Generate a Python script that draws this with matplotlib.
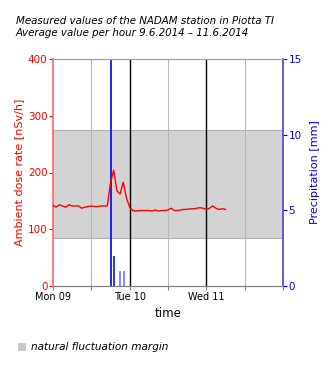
import matplotlib
matplotlib.use("Agg")
import matplotlib.pyplot as plt
from matplotlib.patches import Rectangle

# Hourly ambient dose rate [nSv/h], starting Mon 09.06.2014 00:00
dose_rate = [142, 139, 143, 141, 139, 143, 141, 141, 141, 137,
             139, 140, 141, 140, 140, 141, 141, 141, 182, 204,
             168, 162, 183, 155, 139, 133, 132, 133, 133, 133,
             133, 132, 134, 132, 133, 133, 134, 137, 133, 133,
             134, 135, 135, 136, 136, 137, 138, 137, 135, 137,
             141, 137, 135, 136, 135]

# Precipitation [mm] (hour, amount)
rain_hours = [19.2, 21.1, 22.3]
rain_mm = [2, 1, 1]

# Natural fluctuation margin [nSv/h]
margin_low, margin_high = 84, 275

# Highlighted time (hour)
marker_hour = 18.2

day_labels = ["Mon 09", "Tue 10", "Wed 11"]
day_hours = [0, 24, 48]

fig = plt.figure(figsize=(3.3, 3.7), dpi=100)
ax = fig.add_axes([53/330, (370-286)/370, 230/330, 227/370])
ax2 = ax.twinx()

ax.set_xlim(0, 72)
ax.set_ylim(0, 400)
ax2.set_ylim(0, 15)

# fluctuation band
ax.axhspan(margin_low, margin_high, color="#d3d3d3", zorder=0, lw=0)
ax.axhline(margin_low, color="#b0b0b0", lw=0.8, zorder=0.5)
ax.axhline(margin_high, color="#b0b0b0", lw=0.8, zorder=0.5)

# vertical grid every 12 hours, day boundaries in black
for h in range(12, 72, 12):
    if h % 24 == 0:
        ax.axvline(h, color="black", lw=1.0, zorder=1)
    else:
        ax.axvline(h, color="#b8b8b8", lw=0.8, zorder=1)

ax.axvline(marker_hour, color="#0000ee", lw=1.2, zorder=2)

hours = list(range(len(dose_rate)))
ax.plot(hours, dose_rate, color="red", lw=1.0, zorder=3)

ax2.vlines(rain_hours[:1], 0, rain_mm[:1], color="#2020ff", lw=1.3, zorder=3)
ax2.vlines(rain_hours[1:], 0, rain_mm[1:], color="#8080ff", lw=1.3, zorder=3)

# spines
for a in (ax, ax2):
    a.spines["top"].set_color("#a0a0a0")
    a.spines["bottom"].set_color("#808080")
    a.spines["top"].set_linewidth(0.8)
    a.spines["bottom"].set_linewidth(0.8)
ax2.spines["left"].set_visible(False)
ax.spines["right"].set_visible(False)
ax.spines["left"].set_color("#ff7070")
ax.spines["left"].set_linewidth(1.3)
ax2.spines["right"].set_color("#5050e0")
ax2.spines["right"].set_linewidth(1.3)

ax.set_yticks([0, 100, 200, 300, 400])
ax.tick_params(axis="y", colors="red", labelsize=7.5, length=3, width=0.8, pad=1)
ax2.set_yticks([0, 5, 10, 15])
ax2.tick_params(axis="y", colors="#0000ee", labelsize=7.5, length=3, width=0.8, pad=1)

ax.set_xticks(day_hours)
ax.set_xticklabels(day_labels)
ax.set_xticks([12, 36, 60, 72], minor=True)
ax.tick_params(axis="x", which="both", length=3, width=0.8, color="#808080", labelsize=7, pad=1)

ax.set_ylabel("Ambient dose rate [nSv/h]", color="red", fontsize=8, labelpad=3)
ax2.set_ylabel("Precipitation [mm]", color="#0000ee", fontsize=8, labelpad=6)
ax.set_xlabel("time", fontsize=8.5, labelpad=4)

fig.text(16/330, 1 - 21/370, "Measured values of the NADAM station in Piotta TI",
         fontsize=7.4, style="italic", va="center", ha="left")
fig.text(16/330, 1 - 33/370, "Average value per hour 9.6.2014 \u2013 11.6.2014",
         fontsize=7.4, style="italic", va="center", ha="left")

# legend
fig.patches.append(Rectangle((18/330, 1 - 351/370), 8/330, 8/370,
                             transform=fig.transFigure, facecolor="#c8c8c8",
                             edgecolor="none"))
fig.text(31/330, 1 - 346.5/370, "natural fluctuation margin", fontsize=7.6,
         style="italic", va="center", ha="left")

fig.savefig("out.png", dpi=100)
